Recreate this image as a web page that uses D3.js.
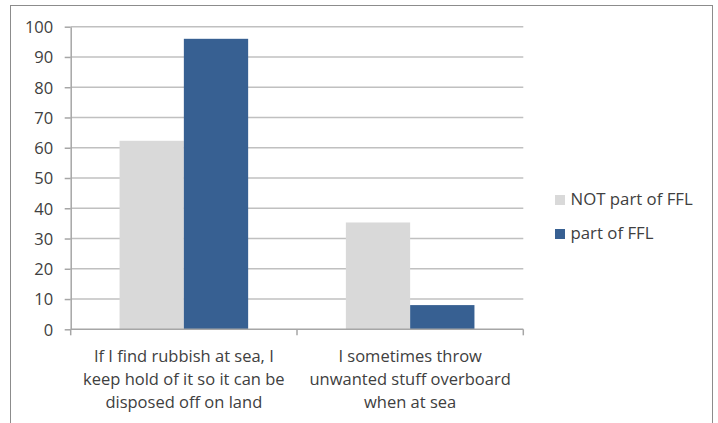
<!DOCTYPE html>
<html>
<head>
<meta charset="utf-8">
<script src="https://cdn.jsdelivr.net/npm/d3@7"></script>
<style>
  html, body { margin: 0; padding: 0; background: #fff; }
  svg { display: block; }
  text { font-family: "Open Sans", "DejaVu Sans", sans-serif; fill: #404040; }
</style>
</head>
<body>
<svg id="chart" width="718" height="423"></svg>
<script>
// Survey statements (each split into display lines)
const categories = [
  "If I find rubbish at sea, I keep hold of it so it can be disposed off on land",
  "I sometimes throw unwanted stuff overboard when at sea"
];
const categoryLines = [
  ["If I find rubbish at sea, I", "keep hold of it so it can be", "disposed off on land"],
  ["I sometimes throw", "unwanted stuff overboard", "when at sea"]
];
const seriesNames = ["NOT part of FFL", "part of FFL"];
const notPartOfFFL = [62.3, 35.3];
const partOfFFL = [96, 8];
const yTicks = [0, 10, 20, 30, 40, 50, 60, 70, 80, 90, 100];

const seriesValues = [notPartOfFFL, partOfFFL];
const colors = ["#d9d9d9", "#376092"];

const svg = d3.select("#chart");
const FONT = 16.5;

// outer chart frame
svg.append("rect")
  .attr("x", 10.5).attr("y", 5.5)
  .attr("width", 702).attr("height", 430)
  .attr("fill", "#fff").attr("stroke", "#8c8c8c").attr("stroke-width", 1);

const plot = { left: 70.7, right: 523.3, top: 26.7, bottom: 329.3 };
const groupWidth = 128.6;

const x0 = d3.scaleBand()
  .domain(categories)
  .range([plot.left, plot.right])
  .paddingInner(0).paddingOuter(0);

const x1 = d3.scaleBand()
  .domain(seriesNames)
  .range([(x0.bandwidth() - groupWidth) / 2, (x0.bandwidth() + groupWidth) / 2]);

const y = d3.scaleLinear().domain([0, 100]).range([plot.bottom, plot.top]);

// horizontal gridlines
svg.append("g")
  .selectAll("line")
  .data(yTicks.filter(d => d > 0))
  .join("line")
  .attr("x1", plot.left).attr("x2", plot.right)
  .attr("y1", d => y(d)).attr("y2", d => y(d))
  .attr("stroke", "#c0c0c0").attr("stroke-width", 1.5);

// bars
const groups = svg.append("g")
  .selectAll("g")
  .data(categories)
  .join("g")
  .attr("transform", d => `translate(${x0(d)},0)`);

groups.selectAll("rect")
  .data((d, i) => seriesNames.map((s, j) => ({ s, v: seriesValues[j][i], j })))
  .join("rect")
  .attr("x", d => x1(d.s))
  .attr("width", x1.bandwidth())
  .attr("y", d => y(d.v))
  .attr("height", d => y(0) - y(d.v))
  .attr("fill", d => colors[d.j]);

// y axis
const yAxis = svg.append("g")
  .attr("transform", `translate(${plot.left},0)`)
  .call(d3.axisLeft(y).tickValues(yTicks).tickSize(6).tickPadding(11.5).tickSizeOuter(0));
yAxis.attr("font-size", null).attr("font-family", null);
yAxis.select(".domain").attr("stroke", "#a6a6a6").attr("stroke-width", 1.5);
yAxis.selectAll(".tick line").attr("stroke", "#a6a6a6").attr("stroke-width", 1.5);
yAxis.selectAll(".tick text")
  .style("font-size", FONT + "px")
  .attr("dy", "0.36em")
  .attr("fill", "#404040");

// x axis line and category boundary ticks
const xAxis = svg.append("g")
  .attr("transform", `translate(0,${plot.bottom})`);
xAxis.append("line")
  .attr("x1", plot.left).attr("x2", plot.right)
  .attr("stroke", "#a6a6a6").attr("stroke-width", 1.5);
const bounds = [plot.left, ...categories.map(c => x0(c) + x0.bandwidth())];
xAxis.selectAll(".boundary")
  .data(bounds)
  .join("line")
  .attr("class", "boundary")
  .attr("x1", d => d).attr("x2", d => d)
  .attr("y1", 0).attr("y2", 6)
  .attr("stroke", "#a6a6a6").attr("stroke-width", 1.5);

// category labels
categories.forEach((c, i) => {
  const cx = x0(c) + x0.bandwidth() / 2;
  const t = svg.append("text")
    .attr("text-anchor", "middle")
    .attr("x", cx)
    .attr("y", 362)
    .style("font-size", FONT + "px");
  categoryLines[i].forEach((line, k) => {
    t.append("tspan")
      .attr("x", cx)
      .attr("dy", k === 0 ? 0 : 23.2)
      .text(line);
  });
});

// legend
const legend = svg.append("g");
seriesNames.forEach((s, i) => {
  const ly = 195 + i * 34;
  legend.append("rect")
    .attr("x", 555).attr("y", ly)
    .attr("width", 10).attr("height", 10)
    .attr("fill", colors[i]);
  legend.append("text")
    .attr("x", 570.5).attr("y", ly + 10)
    .style("font-size", "16.8px")
    .text(s);
});
</script>
</body>
</html>
